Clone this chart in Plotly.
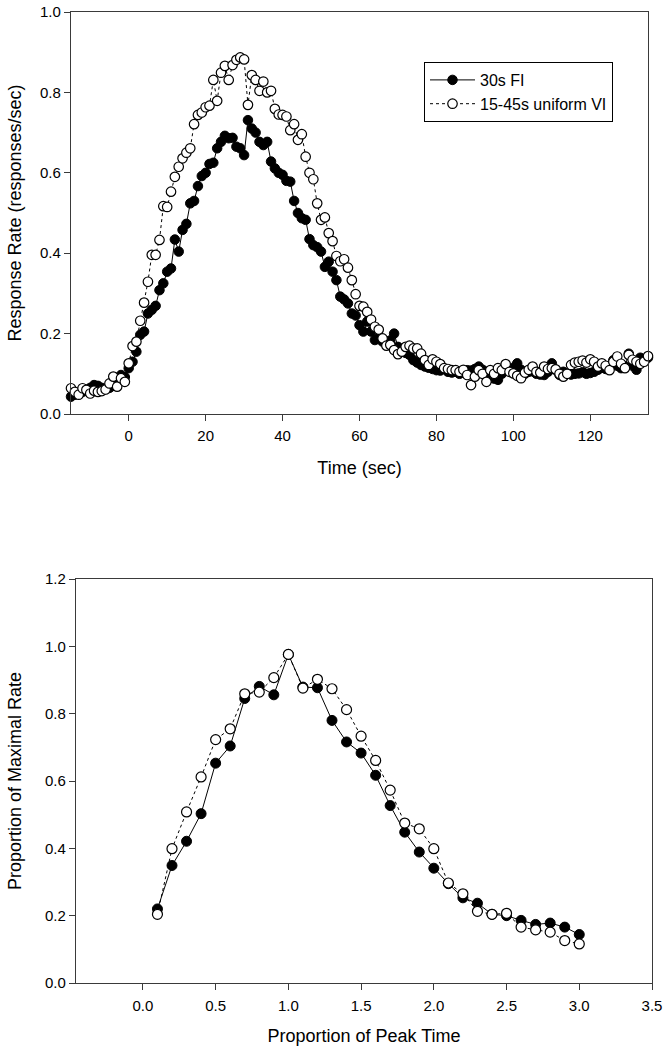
import plotly.graph_objects as go

# ---------------- Top panel data ----------------
time_sec = list(range(-15, 136))

fi_rate = [
    0.043, 0.048, 0.052, 0.055, 0.060, 0.065, 0.072, 0.070, 0.065, 0.062,   # -15..-6
    0.065, 0.070, 0.075, 0.097, 0.092,                                      # -5..-1
    0.114, 0.130, 0.155, 0.197, 0.205, 0.250, 0.259, 0.269, 0.308, 0.325,   # 0..9
    0.354, 0.362, 0.434, 0.404, 0.458, 0.473, 0.524, 0.530, 0.567, 0.592,   # 10..19
    0.600, 0.622, 0.625, 0.661, 0.677, 0.692, 0.686, 0.687, 0.665, 0.661,   # 20..29
    0.644, 0.731, 0.710, 0.700, 0.677, 0.669, 0.677, 0.628, 0.611, 0.600,   # 30..39
    0.595, 0.580, 0.578, 0.530, 0.500, 0.487, 0.483, 0.435, 0.420, 0.415,   # 40..49
    0.404, 0.366, 0.379, 0.354, 0.333, 0.292, 0.285, 0.275, 0.250, 0.245,   # 50..59
    0.221, 0.205, 0.230, 0.205, 0.184, 0.190, 0.180, 0.178, 0.183, 0.200,   # 60..69
    0.167, 0.160, 0.152, 0.147, 0.134, 0.128, 0.122, 0.118, 0.115, 0.112,   # 70..79
    0.109, 0.108, 0.112, 0.105, 0.103, 0.105, 0.100, 0.105, 0.109, 0.108,   # 80..89
    0.112, 0.118, 0.110, 0.105, 0.097, 0.088, 0.085, 0.100, 0.108, 0.110,   # 90..99
    0.115, 0.126, 0.110, 0.100, 0.105, 0.106, 0.100, 0.098, 0.097, 0.105,   # 100..109
    0.126, 0.110, 0.097, 0.105, 0.100, 0.098, 0.100, 0.101, 0.104, 0.100,   # 110..119
    0.102, 0.105, 0.110, 0.115, 0.112, 0.120, 0.134, 0.120, 0.114, 0.118,   # 120..129
    0.150, 0.120, 0.110, 0.140, 0.135, 0.140,                               # 130..135
]

vi_rate = [
    0.064, 0.055, 0.048, 0.064, 0.060, 0.051, 0.058, 0.055, 0.057, 0.061,   # -15..-6
    0.076, 0.093, 0.068, 0.089, 0.080,                                      # -5..-1
    0.126, 0.169, 0.180, 0.232, 0.277, 0.329, 0.396, 0.396, 0.433, 0.517,   # 0..9
    0.515, 0.553, 0.590, 0.615, 0.636, 0.650, 0.661, 0.721, 0.744, 0.750,   # 10..19
    0.763, 0.767, 0.831, 0.779, 0.849, 0.866, 0.831, 0.868, 0.881, 0.887,   # 20..29
    0.882, 0.769, 0.843, 0.831, 0.804, 0.827, 0.800, 0.804, 0.759, 0.745,   # 30..39
    0.744, 0.740, 0.706, 0.721, 0.682, 0.696, 0.640, 0.600, 0.584, 0.524,   # 40..49
    0.483, 0.489, 0.450, 0.430, 0.393, 0.380, 0.385, 0.364, 0.333, 0.298,   # 50..59
    0.269, 0.267, 0.254, 0.235, 0.217, 0.210, 0.188, 0.170, 0.172, 0.159,   # 60..69
    0.149, 0.155, 0.167, 0.170, 0.163, 0.163, 0.150, 0.134, 0.122, 0.136,   # 70..79
    0.130, 0.124, 0.114, 0.112, 0.109, 0.109, 0.105, 0.110, 0.097, 0.072,   # 80..89
    0.093, 0.109, 0.100, 0.080, 0.109, 0.100, 0.114, 0.109, 0.124, 0.105,   # 90..99
    0.101, 0.095, 0.089, 0.103, 0.110, 0.118, 0.105, 0.103, 0.118, 0.112,   # 100..109
    0.114, 0.111, 0.100, 0.093, 0.100, 0.122, 0.128, 0.130, 0.133, 0.128,   # 110..119
    0.136, 0.130, 0.118, 0.126, 0.120, 0.109, 0.130, 0.143, 0.125, 0.114,   # 120..129
    0.147, 0.135, 0.130, 0.125, 0.130, 0.144,                               # 130..135
]

# ---------------- Bottom panel data ----------------
peak_prop = [0.1, 0.2, 0.3, 0.4, 0.5, 0.6, 0.7, 0.8, 0.9, 1.0,
             1.1, 1.2, 1.3, 1.4, 1.5, 1.6, 1.7, 1.8, 1.9, 2.0,
             2.1, 2.2, 2.3, 2.4, 2.5, 2.6, 2.7, 2.8, 2.9, 3.0]

fi_norm = [0.220, 0.349, 0.421, 0.503, 0.653, 0.704, 0.845, 0.881, 0.856, 0.976,
           0.879, 0.877, 0.780, 0.716, 0.683, 0.617, 0.527, 0.448, 0.389, 0.341,
           0.295, 0.253, 0.237, 0.204, 0.200, 0.186, 0.174, 0.178, 0.166, 0.144]

vi_norm = [0.204, 0.399, 0.508, 0.612, 0.723, 0.755, 0.859, 0.864, 0.907, 0.976,
           0.876, 0.902, 0.874, 0.812, 0.733, 0.661, 0.573, 0.475, 0.458, 0.399,
           0.297, 0.265, 0.213, 0.204, 0.207, 0.166, 0.158, 0.151, 0.126, 0.116]

top_xticks = [0, 20, 40, 60, 80, 100, 120]
top_yticks = [0.0, 0.2, 0.4, 0.6, 0.8, 1.0]
bot_xticks = [0.0, 0.5, 1.0, 1.5, 2.0, 2.5, 3.0, 3.5]
bot_yticks = [0.0, 0.2, 0.4, 0.6, 0.8, 1.0, 1.2]

FONT = "Liberation Sans, Arial, sans-serif"
AX = "#3a3a3a"
W, H = 664, 1050

fig = go.Figure()

fig.add_trace(go.Scatter(
    x=time_sec, y=fi_rate, name="30s FI", mode="lines+markers",
    line=dict(color="black", width=1),
    marker=dict(symbol="circle", size=9.5, color="black", line=dict(color="black", width=1)),
    cliponaxis=False, xaxis="x", yaxis="y"))
fig.add_trace(go.Scatter(
    x=time_sec, y=vi_rate, name="15-45s uniform VI", mode="lines+markers",
    line=dict(color="black", width=1, dash="dot"),
    marker=dict(symbol="circle", size=9.5, color="white", line=dict(color="black", width=1.2)),
    cliponaxis=False, xaxis="x", yaxis="y"))

fig.add_trace(go.Scatter(
    x=peak_prop, y=fi_norm, name="30s FI", mode="lines+markers", showlegend=False,
    line=dict(color="black", width=1),
    marker=dict(symbol="circle", size=10, color="black", line=dict(color="black", width=1)),
    cliponaxis=False, xaxis="x2", yaxis="y2"))
fig.add_trace(go.Scatter(
    x=peak_prop, y=vi_norm, name="15-45s uniform VI", mode="lines+markers", showlegend=False,
    line=dict(color="black", width=1, dash="dot"),
    marker=dict(symbol="circle", size=10, color="white", line=dict(color="black", width=1.2)),
    cliponaxis=False, xaxis="x2", yaxis="y2"))

axis_common = dict(showline=True, linecolor=AX, linewidth=1.3, mirror=True,
                   ticks="outside", ticklen=6, tickcolor=AX, tickwidth=1,
                   showgrid=False, zeroline=False, automargin=False,
                   tickfont=dict(family=FONT, size=15, color="black"))

fig.update_layout(
    width=W, height=H,
    margin=dict(l=0, r=0, t=0, b=0, autoexpand=False),
    paper_bgcolor="white", plot_bgcolor="white",
    font=dict(family=FONT, color="black"),
    xaxis=dict(domain=[71 / W, 648 / W], range=[-15, 135], anchor="y",
               tickvals=top_xticks, ticktext=[str(v) for v in top_xticks],
               ticklabelstandoff=2,
               title=dict(text="Time (sec)", font=dict(family=FONT, size=18), standoff=18),
               **axis_common),
    yaxis=dict(domain=[1 - 414 / H, 1 - 12 / H], range=[0, 1.0], anchor="x",
               tickvals=top_yticks, ticktext=[f"{v:.1f}" for v in top_yticks],
               title=dict(text="Response Rate (responses/sec)", font=dict(family=FONT, size=18), standoff=13),
               **axis_common),
    xaxis2=dict(domain=[76 / W, 652 / W], range=[-0.46, 3.5], anchor="y2",
                tickvals=bot_xticks, ticktext=[f"{v:.1f}" for v in bot_xticks],
                ticklabelstandoff=3,
                title=dict(text="Proportion of Peak Time", font=dict(family=FONT, size=18), standoff=16),
                **axis_common),
    yaxis2=dict(domain=[1 - 983 / H, 1 - 579 / H], range=[0, 1.2], anchor="x2",
                tickvals=bot_yticks, ticktext=[f"{v:.1f}" for v in bot_yticks],
                title=dict(text="Proportion of Maximal Rate", font=dict(family=FONT, size=18), standoff=18),
                **axis_common),
    legend=dict(x=424 / W, y=1 - 62 / H, xanchor="left", yanchor="top",
                bordercolor="black", borderwidth=1, bgcolor="white",
                font=dict(family=FONT, size=16, color="black"),
                tracegroupgap=0, itemwidth=45),
    showlegend=True,
)

fig.write_html("out.html", config={"displayModeBar": False},
               post_script="document.body.style.margin='0';document.body.style.overflow='hidden';")
